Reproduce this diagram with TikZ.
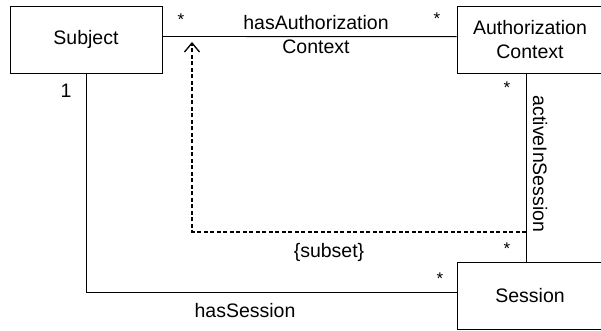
\documentclass[tikz,border=0pt]{standalone}
\usepackage{fontspec}
\setmainfont{Liberation Sans}
\usetikzlibrary{arrows.meta}

\tikzset{
  cls/.style={draw, line width=0.9pt, inner sep=0pt, minimum height=67pt},
  assoc/.style={line width=0.9pt},
  subsetdep/.style={line width=1.2pt, dash pattern=on 4pt off 2.5pt,
    -{Straight Barb[length=9pt, width=15pt, line width=1.3pt]}},
  mult/.style={inner sep=0pt, font=\fontsize{17}{20}\selectfont}
}

\begin{document}
\begin{tikzpicture}[x=1pt, y=1pt, font=\fontsize{19.5}{24}\selectfont]
			%%%%% START %%%%%
			\useasboundingbox (0, 0) rectangle (601, 331);
			
			\node[cls, minimum width=152pt] (subj) at (86, 291.5) {Subject};
			\node[cls, minimum width=146pt, align=center] (authctx) at (530, 291) {Authorization\\Context};
			\node[cls, minimum width=146pt] (sess) at (530, 35.5) {Session};
			
			% associations
			\draw[assoc] ([yshift=3pt]subj.east) -- ([yshift=3.3pt]authctx.west);
			\draw[assoc] ([xshift=-4pt]authctx.south) -- ([xshift=-4pt]sess.north);
			\draw[assoc] (subj.south) |- ([yshift=3.5pt]sess.west);
			
			% subset constraint
			\coordinate (sub1) at (526, 99);
			\coordinate (sub2) at (192, 289);
			\draw[subsetdep] (sub1) -| (sub2);
			
			% role names and multiplicities
			\node[mult] (m1) at (181, 311) {*};
			\node[align=center] (hasac) at (316, 296) {hasAuthorization\\Context};
			\node[mult] (m2) at (437, 312) {*};
			\node[inner sep=0pt] (m3) at (66, 240) {1};
			\node[mult] (m4) at (507, 243) {*};
			\node[rotate=-90] (actin) at (540, 167) {activeInSession};
			\node (subset) at (329, 79) {\{subset\}};
			\node[mult] (m5) at (507, 82) {*};
			\node[mult] (m6) at (440, 52) {*};
			\node (hassess) at (245, 20) {hasSession};
			%%%%% END %%%%%
\end{tikzpicture}
\end{document}
